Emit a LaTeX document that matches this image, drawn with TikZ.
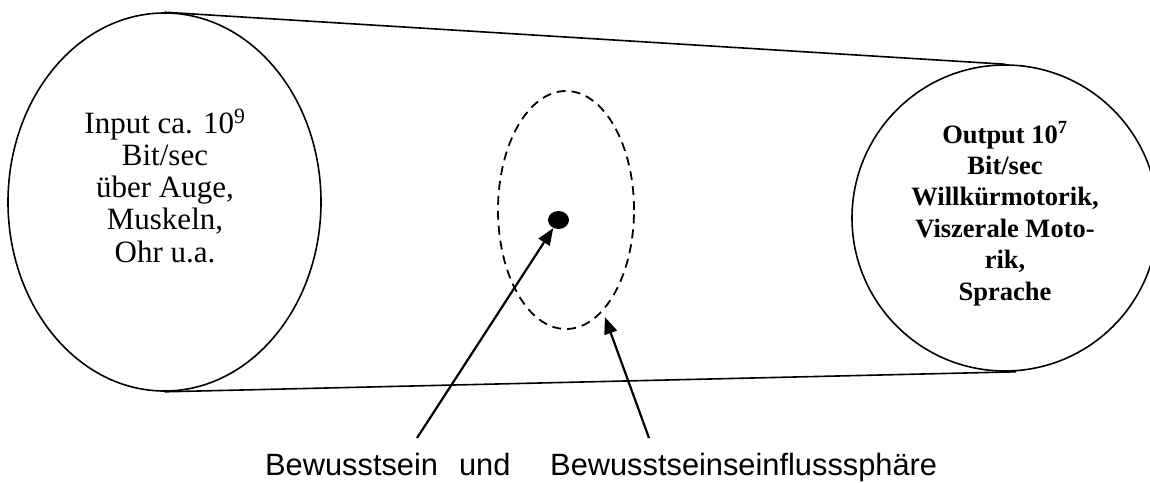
\documentclass[tikz,border=0pt]{standalone}
\usepackage{fontspec}
\setmainfont{Liberation Serif}
\newfontfamily\sansf{Liberation Sans}
\usetikzlibrary{shapes.geometric,arrows.meta}
\tikzset{
  outline/.style={draw=black, line width=1.6pt, inner sep=0pt},
  tangent/.style={draw=black, line width=1.6pt},
  dashring/.style={draw=black, line width=1.8pt, dash pattern=on 9pt off 6pt, ellipse, inner sep=0pt},
  pointer/.style={draw=black, line width=2.2pt, -{Triangle[length=17pt,width=13pt]}},
  lefttext/.style={anchor=base, font=\fontsize{31}{32.3}\selectfont, inner sep=0pt},
  righttext/.style={anchor=base, font=\fontsize{26.5}{31.4}\selectfont\bfseries, inner sep=0pt},
  bottomtext/.style={font=\sansf\fontsize{30.8}{34}\selectfont, inner sep=0pt}
}
\begin{document}
\begin{tikzpicture}[x=1pt,y=-1pt]
\useasboundingbox (0,0) rectangle (1150,482);
\fill[white] (0,0) rectangle (1150,482);
% shapes
\node[outline, ellipse, minimum width=313pt, minimum height=378pt] (inp) at (164.5,202) {};
\node[outline, circle, minimum size=306pt] (out) at (1005,218) {};
\draw[tangent] (inp.north) -- (out.north);
\draw[tangent] (inp.south) -- ([xshift=11pt]out.south);
\node[dashring, minimum width=136pt, minimum height=238pt] (sph) at (566,210) {};
\node[ellipse, fill=black, minimum width=21pt, minimum height=18pt, inner sep=0pt] (dot) at (558.5,220) {};
% input text
\node[lefttext] (in1) at (165,133) {Input ca. 10\textsuperscript{9}};
\node[lefttext] (in2) at (165,165.3) {Bit/sec};
\node[lefttext] (in3) at (165,197.5) {über Auge,};
\node[lefttext] (in4) at (165,229.8) {Muskeln,};
\node[lefttext] (in5) at (165,262) {Ohr u.a.};
% output text
\node[righttext] (out1) at (1005,143) {Output 10\textsuperscript{7}};
\node[righttext] (out2) at (1005,174) {Bit/sec};
\node[righttext] (out3) at (1005,205) {Willkürmotorik,};
\node[righttext] (out4) at (1005,237) {Viszerale Moto-};
\node[righttext] (out5) at (1005,268) {rik,};
\node[righttext] (out6) at (1005,300) {Sprache};
% bottom labels
\node[bottomtext, anchor=base west] (lab1) at (265,475) {Bewusstsein\hspace{21pt}und};
\node[bottomtext, anchor=base west] (lab2) at (550,475) {Bewusstseinseinflusssphäre};
% connectors
\coordinate (a1s) at (417,438);
\coordinate (a2s) at (649,438);
\draw[pointer] (a1s) -- (dot);
\draw[pointer, shorten >=6pt] (a2s) -- (sph);
\end{tikzpicture}
\end{document}
